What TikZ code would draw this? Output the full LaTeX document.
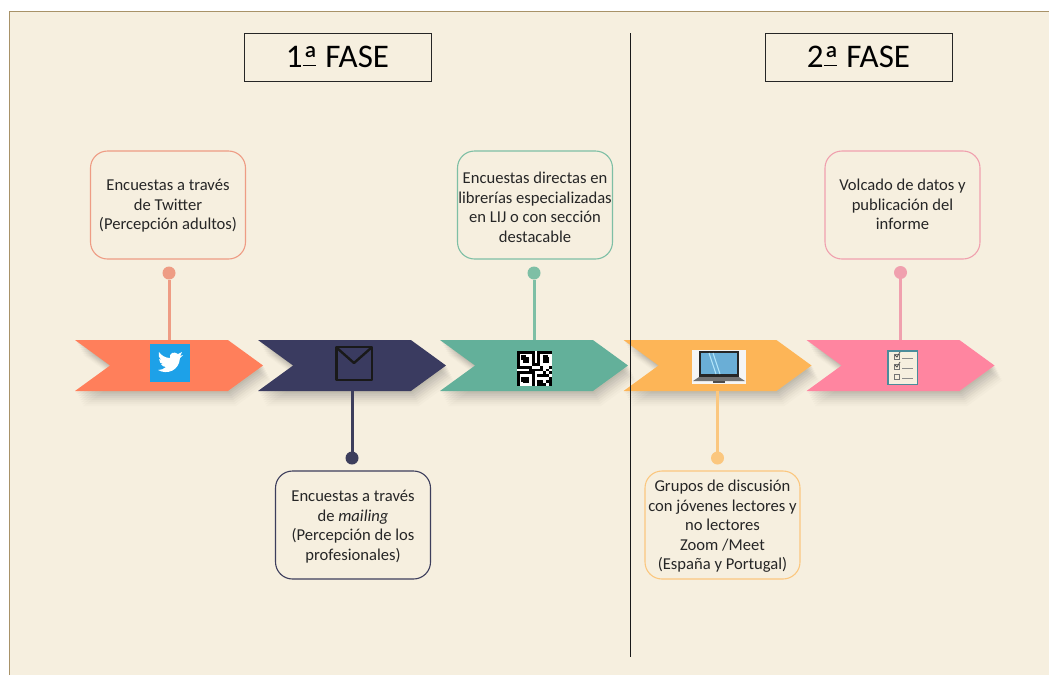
\documentclass[tikz,border=0pt]{standalone}
\usepackage{fontspec}
\setmainfont{Carlito}
\usetikzlibrary{positioning, shapes.symbols, shadows}

\definecolor{paper}{HTML}{F6EFDF}
\definecolor{coralc}{HTML}{FF7F5B}
\definecolor{navyc}{HTML}{3A3B60}
\definecolor{greenc}{HTML}{63B09A}
\definecolor{orangec}{HTML}{FDB557}
\definecolor{pinkc}{HTML}{FF85A0}
\definecolor{coralb}{HTML}{EE9C84}
\definecolor{navyb}{HTML}{3D3E5C}
\definecolor{greenb}{HTML}{7EBFA5}
\definecolor{orangeb}{HTML}{FBC77F}
\definecolor{pinkb}{HTML}{F0A0AE}

\newcommand{\ordinal}{\rlap{\rule[1.5pt]{13pt}{1.4pt}}\smash{\raisebox{-5pt}{\fontsize{38}{38}\selectfont ª}}}

\begin{document}
\begin{tikzpicture}[
    x=1pt, y=-1pt,
    softshadow/.style={
        general shadow={fill=black, opacity=0.035, shadow xshift=1pt, shadow yshift=-1.5pt},
        general shadow={fill=black, opacity=0.035, shadow xshift=2pt, shadow yshift=-3pt},
        general shadow={fill=black, opacity=0.035, shadow xshift=3pt, shadow yshift=-5pt},
        general shadow={fill=black, opacity=0.03, shadow xshift=4pt, shadow yshift=-7pt},
        general shadow={fill=black, opacity=0.03, shadow xshift=5pt, shadow yshift=-9pt},
        general shadow={fill=black, opacity=0.025, shadow xshift=6pt, shadow yshift=-11pt},
        general shadow={fill=black, opacity=0.02, shadow xshift=7pt, shadow yshift=-13pt},
        general shadow={fill=black, opacity=0.015, shadow xshift=8pt, shadow yshift=-15pt}
    },
    stage/.style={signal, signal from=west, signal to=east, signal pointer angle=72,
        minimum width=188pt, minimum height=51pt, inner sep=0pt, outer sep=0pt,
        softshadow, fill=#1},
    phasebox/.style={rectangle, draw=black!85, line width=0.9pt, fill=paper,
        minimum width=187pt, minimum height=48pt, font=\fontsize{33}{36}\selectfont},
    infobox/.style={rectangle, rounded corners=17pt, draw=#1, line width=1.1pt,
        minimum width=155pt, minimum height=108pt, outer sep=0pt, inner sep=0pt},
    infotext/.style={anchor=north, align=center, inner sep=0pt,
        font=\fontsize{16.6}{19.5}\selectfont, text=black!85},
    pin/.style={circle, fill=#1, inner sep=0pt, minimum size=13pt, outer sep=0pt},
    stem/.style={line width=3pt, draw=#1}
]
\useasboundingbox (0,0) rectangle (1049,675);

% Background
\fill[paper] (9,11) rectangle (1049,675);
\draw[color={rgb,255:red,168;green,146;blue,104}, line width=1pt] (9,675) -- (9,11) -- (1049,11);

% Phase titles
\node[phasebox] (fase1) at (337.5,57) {1\ordinal{} FASE};
\node[phasebox] (fase2) at (858.5,57) {2\ordinal{} FASE};

% Timeline arrows
\node[stage=coralc] (twitter) at (169,365.5) {};
\node[stage=navyc] (mail) at (352,365.5) {};
\node[stage=greenc] (librerias) at (534,365.5) {};
\node[stage=orangec] (grupos) at (717.5,365.5) {};
\node[stage=pinkc] (volcado) at (900.5,365.5) {};

% Pins and text boxes above
\node[pin=coralb, above=60.5pt of twitter.north] (pin1) {};
\node[infobox=coralb, above=7.5pt of pin1, xshift=-1pt] (box1) {};
\node[infotext] (text1) at ([yshift=-28pt]box1.north) {Encuestas a través\\de Twitter\\(Percepción adultos)};

\node[pin=greenb, above=60.5pt of librerias.north] (pin3) {};
\node[infobox=greenb, above=7.5pt of pin3, xshift=1pt] (box3) {};
\node[infotext] (text3) at ([yshift=-21pt]box3.north) {Encuestas directas en\\librerías especializadas\\en LIJ o con sección\\destacable};

\node[pin=pinkb, above=61pt of volcado.north] (pin5) {};
\node[infobox=pinkb, above=7pt of pin5, xshift=2pt] (box5) {};
\node[infotext] (text5) at ([yshift=-28pt]box5.north) {Volcado de datos y\\publicación del\\informe};

% Pins and text boxes below
\node[pin=navyb, below=60.5pt of mail.south] (pin2) {};
\node[infobox=navyb, below=6.5pt of pin2, xshift=1pt] (box2) {};
\node[infotext] (text2) at ([yshift=-19pt]box2.north) {Encuestas a través\\de \textit{mailing}\\(Percepción de los\\profesionales)};

\node[pin=orangeb, below=60.5pt of grupos.south] (pin4) {};
\node[infobox=orangeb, below=6.5pt of pin4, xshift=5pt] (box4) {};
\node[infotext] (text4) at ([yshift=-9pt]box4.north) {Grupos de discusión\\con jóvenes lectores y\\no lectores\\Zoom /Meet\\(España y Portugal)};

% Stems
\draw[stem=coralb] (pin1) -- (twitter.north);
\draw[stem=greenb] (pin3) -- (librerias.north);
\draw[stem=pinkb] (pin5) -- (volcado.north);
\draw[stem=navyb] (mail.south) -- (pin2);
\draw[stem=orangeb] (grupos.south) -- (pin4);

% Divider
\coordinate (divtop) at (630,33);
\coordinate (divbot) at (630,657);
\draw[line width=1pt, black!90] (divtop) -- (divbot);

% Twitter icon
\fill[color={rgb,255:red,29;green,161;blue,232}] (150,344) rectangle (190,382);
\fill[white] (158,370) .. controls (167,375) and (179,371) .. (180,358) -- (183,355) -- (180,356)
    -- (182,352) -- (178,354) .. controls (174,351) and (169,353) .. (170,358)
    .. controls (165,358) and (161,355) .. (159,352) .. controls (158,355) and (159,358) .. (161,360)
    -- (159,359) .. controls (159,362) and (161,364) .. (163,364) -- (161,364)
    .. controls (162,366) and (164,367) .. (166,367) .. controls (164,369) and (161,370) .. (158,370) -- cycle;

% Envelope icon
\draw[line width=2.4pt, black!90, line join=round] (336.5,347) rectangle (372,380);
\draw[line width=2.4pt, black!90, line join=round] (337,348) -- (354,363) -- (371,348);

% QR icon
\fill[black] (517,351) rectangle (552,386);
\foreach \cx/\cy in {1/1,2/1,3/1,4/1,1/2,4/2,1/3,4/3,1/4,2/4,3/4,4/4,
    8/1,9/1,10/1,11/1,8/2,11/2,8/3,11/3,8/4,9/4,10/4,11/4,
    1/8,2/8,3/8,4/8,1/9,4/9,1/10,4/10,1/11,2/11,3/11,4/11,
    6/0,6/1,6/2,6/3,5/5,6/5,7/5,0/6,1/6,2/6,3/6,9/5,10/5,11/6,9/6,8/7,10/7,
    6/7,7/7,6/8,6/9,7/9,8/9,9/9,6/10,6/11,9/10,10/9,11/8,10/11}
    \fill[white] (517+\cx*2.92,351+\cy*2.92) rectangle ++(2.92,2.92);
\fill[black] (521,355) rectangle ++(5,5);
\fill[black] (543,355) rectangle ++(5,5);
\fill[black] (521,377) rectangle ++(5,5);

% Laptop icon
\fill[white!96!black] (692,350) rectangle (746,384);
\fill[black!85] (699,351) rectangle (739,377);
\fill[color={rgb,255:red,106;green,174;blue,214}] (701,353) rectangle (737,374);
\draw[white!70!cyan, line width=1pt] (709,353) -- (716,374);
\draw[white!70!cyan, line width=1pt] (713,353) -- (720,374);
\fill[black!55] (699,377) -- (739,377) -- (745,381) -- (693,381) -- cycle;
\fill[black!70] (713,381) rectangle (725,383);

% Checklist icon
\fill[color={rgb,255:red,75;green,140;blue,155}] (887,350) rectangle (918,385);
\fill[paper] (888.5,351.5) rectangle (916.5,383.5);
\foreach \ly in {358,368,378}{
    \draw[black!55, line width=0.7pt] (894,\ly-4) rectangle ++(5,5);
    \draw[black!45, line width=0.7pt] (902,\ly) -- (913,\ly);
}
\draw[black!70, line width=0.8pt] (895,355) -- (897,357) -- (900,352);
\draw[black!70, line width=0.8pt] (895,365) -- (897,367) -- (900,362);

\end{tikzpicture}
\end{document}
